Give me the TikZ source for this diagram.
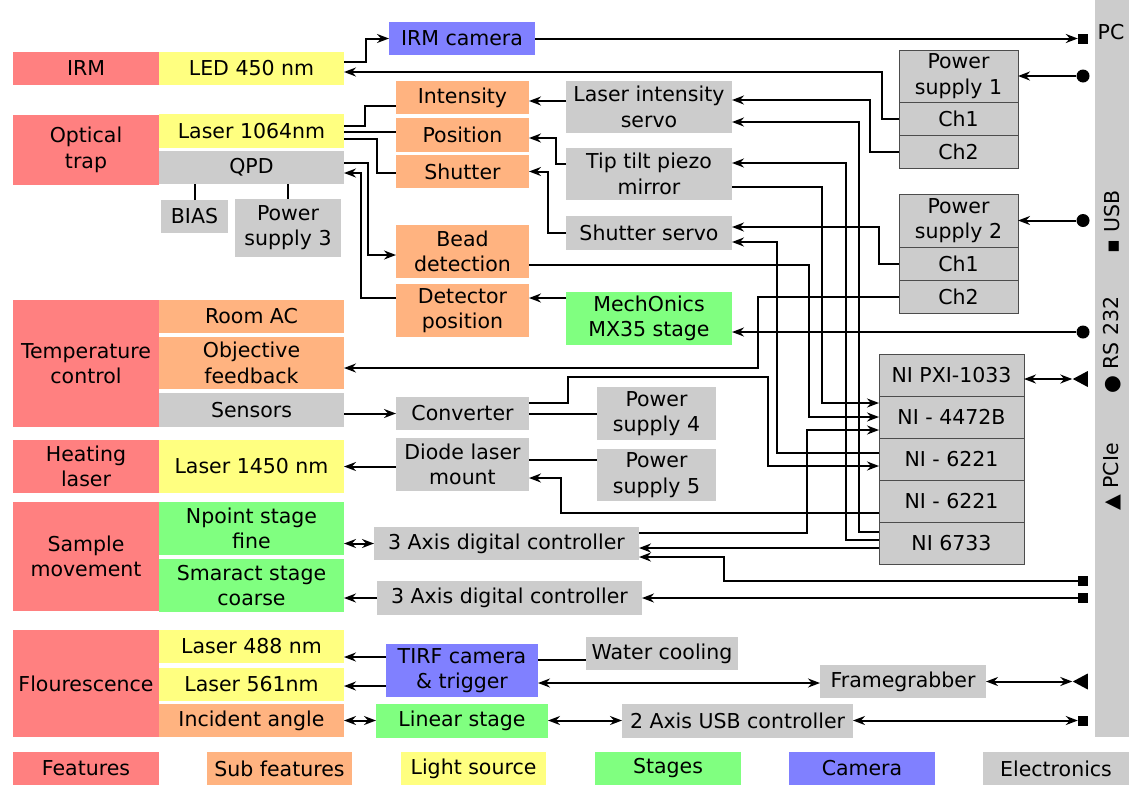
\documentclass[tikz,border=0pt]{standalone}
\usepackage{fontspec}
\setmainfont{DejaVu Sans}
\usetikzlibrary{arrows.meta, shapes.geometric, positioning}

\definecolor{featred}{HTML}{FF8080}
\definecolor{subor}{HTML}{FFB380}
\definecolor{lightyel}{HTML}{FFFF80}
\definecolor{stagegr}{HTML}{80FF80}
\definecolor{cambl}{HTML}{8080FF}
\definecolor{elecgr}{HTML}{CCCCCC}

\tikzset{
  blk/.style={rectangle, inner sep=0pt, outer sep=0pt, align=center, font=\fontsize{20.5}{25.5}\selectfont},
  sz/.style 2 args={minimum width=#1pt, minimum height=#2pt},
  feat/.style={blk, fill=featred},
  subfeat/.style={blk, fill=subor},
  light/.style={blk, fill=lightyel},
  stage/.style={blk, fill=stagegr},
  cam/.style={blk, fill=cambl},
  elec/.style={blk, fill=elecgr},
  chan/.style={elec, draw=black!70, line width=0.9pt},
  sqmark/.style={rectangle, fill=black, inner sep=0pt, minimum size=10pt},
  dotmark/.style={circle, fill=black, inner sep=0pt, minimum size=13pt},
  trimark/.style={isosceles triangle, isosceles triangle stretches, shape border rotate=180, fill=black, inner sep=0pt, minimum height=15pt, minimum width=16pt},
  plainwire/.style={line width=2pt},
  wire/.style={plainwire, -{Stealth[length=12pt,width=9pt,inset=4pt]}},
  wires/.style={plainwire, {Stealth[length=12pt,width=9pt,inset=4pt]}-{Stealth[length=12pt,width=9pt,inset=4pt]}}
}

\begin{document}
\begin{tikzpicture}[x=1pt, y=-1pt]
    \useasboundingbox (0,0) rectangle (1129,785);

    % Features (left column)
    \node[feat, sz={146}{33}] (irm) at (86,68.5) {IRM};
    \node[feat, sz={146}{70}] (otrap) at (86,150) {Optical\\trap};
    \node[feat, sz={146}{127}] (temp) at (86,363.5) {Temperature\\control};
    \node[feat, sz={146}{53}] (heat) at (86,466.5) {Heating\\laser};
    \node[feat, sz={146}{109}] (samp) at (86,556.5) {Sample\\movement};
    \node[feat, sz={146}{107}] (flou) at (86,683.5) {Flourescence};

    % Second column
    \node[light, sz={185}{33}] (led) at (251.5,68.5) {LED 450 nm};
    \node[light, sz={185}{34}] (l1064) at (251.5,131) {Laser 1064nm};
    \node[elec, sz={185}{33}] (qpd) at (251.5,167.5) {QPD};
    \node[elec, sz={67}{33}] (bias) at (194.5,216.5) {BIAS};
    \node[elec, sz={106}{58}] (ps3) at (288,227.5) {Power\\supply 3};
    \node[subfeat, sz={185}{33}] (roomac) at (251.5,316.5) {Room AC};
    \node[subfeat, sz={185}{52}] (objfb) at (251.5,363) {Objective\\feedback};
    \node[elec, sz={185}{34}] (sensors) at (251.5,410) {Sensors};
    \node[light, sz={185}{53}] (l1450) at (251.5,466.5) {Laser 1450 nm};
    \node[stage, sz={185}{53}] (npoint) at (251.5,528.5) {Npoint stage\\fine};
    \node[stage, sz={185}{53}] (smaract) at (251.5,585.5) {Smaract stage\\coarse};
    \node[light, sz={185}{33}] (l488) at (251.5,646.5) {Laser 488 nm};
    \node[light, sz={185}{33}] (l561) at (251.5,684.5) {Laser 561nm};
    \node[subfeat, sz={185}{33}] (incid) at (251.5,720.5) {Incident angle};

    % Third column
    \node[cam, sz={146}{33}] (irmcam) at (462,38.5) {IRM camera};
    \node[subfeat, sz={133}{33}] (intens) at (462.5,97.5) {Intensity};
    \node[subfeat, sz={133}{34}] (posn) at (462.5,135) {Position};
    \node[subfeat, sz={133}{33}] (shut) at (462.5,171.5) {Shutter};
    \node[subfeat, sz={133}{53}] (bead) at (462.5,251.5) {Bead\\detection};
    \node[subfeat, sz={133}{53}] (detpos) at (462.5,310.5) {Detector\\position};
    \node[elec, sz={133}{33}] (conv) at (462.5,413.5) {Converter};
    \node[elec, sz={133}{53}] (diode) at (462.5,464.5) {Diode laser\\mount};
    \node[elec, sz={265}{33}] (ctrla) at (506.5,543.5) {3 Axis digital controller};
    \node[elec, sz={265}{34}] (ctrlb) at (509.5,598) {3 Axis digital controller};
    \node[cam, sz={152}{53}] (tirf) at (462,670.5) {TIRF camera\\\& trigger};
    \node[stage, sz={172}{34}] (linst) at (462,720.5) {Linear stage};

    % Fourth column
    \node[elec, sz={166}{52}] (lis) at (649,107) {Laser intensity\\servo};
    \node[elec, sz={166}{52}] (ttp) at (649,174) {Tip tilt piezo\\mirror};
    \node[elec, sz={166}{34}] (ssv) at (649,233) {Shutter servo};
    \node[stage, sz={166}{53}] (mech) at (649,318.5) {MechOnics\\MX35 stage};
    \node[elec, sz={119}{53}] (ps4) at (656.5,413.5) {Power\\supply 4};
    \node[elec, sz={119}{52}] (ps5) at (656.5,475) {Power\\supply 5};
    \node[elec, sz={152}{33}] (water) at (662,653.5) {Water cooling};
    \node[elec, sz={166}{33}] (fgrab) at (903,681.5) {Framegrabber};
    \node[elec, sz={231}{34}] (usbctl) at (737.5,720.5) {2 Axis USB controller};

    % Power supplies with channels
    \node[chan, sz={119}{52}] (ps1) at (958.5,76) {Power\\supply 1};
    \node[chan, sz={119}{33}, below=0pt of ps1] (ps1a) {Ch1};
    \node[chan, sz={119}{33}, below=0pt of ps1a] (ps1b) {Ch2};
    \node[chan, sz={119}{53}] (ps2) at (958.5,220.5) {Power\\supply 2};
    \node[chan, sz={119}{33}, below=0pt of ps2] (ps2a) {Ch1};
    \node[chan, sz={119}{33}, below=0pt of ps2a] (ps2b) {Ch2};

    % NI chassis
    \node[chan, sz={145}{42}] (ni1) at (951.5,375) {NI PXI-1033};
    \node[chan, sz={145}{42}, below=0pt of ni1] (ni2) {NI - 4472B};
    \node[chan, sz={145}{42}, below=0pt of ni2] (ni3) {NI - 6221};
    \node[chan, sz={145}{42}, below=0pt of ni3] (ni4) {NI - 6221};
    \node[chan, sz={145}{42}, below=0pt of ni4] (ni5) {NI 6733};

    % PC bar
    \node[elec, sz={34}{737}] (pcbar) at (1112,368.5) {};
    \node[blk] (pclbl) at (1111,32) {PC};
    \node[blk, rotate=90] (usblbl) at (1112,222) {▪ USB};
    \node[blk, rotate=90] (rslbl) at (1112,345) {● RS 232};
    \node[blk, rotate=90] (pcielbl) at (1112,477) {▲ PCIe};

    % Ports
    \node[sqmark] (pcirm) at (1083,38.5) {};
    \node[dotmark] (pcps1) at (1083,76) {};
    \node[dotmark] (pcps2) at (1083,220.5) {};
    \node[dotmark] (pcmech) at (1083,332) {};
    \node[trimark] (pcni) at (1083,379) {};
    \node[sqmark] (pcctra) at (1083,581) {};
    \node[sqmark] (pcctrb) at (1083,598) {};
    \node[trimark] (pcfg) at (1083,681.5) {};
    \node[sqmark] (pcusb) at (1083,720.5) {};

    % Legend
    \node[feat, sz={146}{33}] (lgfeat) at (86,768.5) {Features};
    \node[subfeat, sz={145}{33}] (lgsub) at (279.5,768.5) {Sub features};
    \node[light, sz={145}{33}] (lglight) at (473.5,768.5) {Light source};
    \node[stage, sz={146}{33}] (lgstage) at (668,768.5) {Stages};
    \node[cam, sz={146}{33}] (lgcam) at (862,768.5) {Camera};
    \node[elec, sz={146}{33}] (lgelec) at (1056,768.5) {Electronics};

    % IRM and optical trap wiring
    \draw[wire] ([yshift=6.5pt]led.east) -- ++(22,0) |- (irmcam.west);
    \draw[wire] (irmcam.east) -- (pcirm);
    \draw[wire] (pcps1) -- (ps1.east);
    \draw[wire] (ps1a.west) -- ++(-17,0) |- ([yshift=-3.5pt]led.east);
    \draw[wire] (ps1b.west) -- ++(-29,0) |- ([yshift=7pt]lis.east);
    \draw[plainwire] ([yshift=5pt]l1064.east) -- ++(21,0) |- ([yshift=-8.5pt]intens.west);
    \draw[plainwire] ([yshift=-1pt]l1064.east) -- ([yshift=3pt]posn.west);
    \draw[plainwire] ([yshift=-8pt]l1064.east) -- ++(33,0) |- ([yshift=-1.5pt]shut.west);
    \draw[wire] ([yshift=6pt]lis.west) -- ([yshift=-3.5pt]intens.east);
    \draw[wire] ([yshift=10pt]ttp.west) -- ++(-10,0) |- ([yshift=-3pt]posn.east);
    \draw[wire] (ssv.west) -- ++(-18,0) |- (shut.east);
    \draw[wire] ([yshift=4.5pt]qpd.east) -- ++(24,0) |- ([yshift=-3.5pt]bead.west);
    \draw[wire] ([yshift=12.5pt]detpos.west) -- ++(-35,0) |- ([yshift=-5.5pt]qpd.east);
    \draw[plainwire] (bias.north) -- (bias.north |- qpd.south);
    \draw[plainwire] (ps3.north) -- (ps3.north |- qpd.south);
    \draw[wire] ([yshift=20.5pt]mech.west) -- ([yshift=12.5pt]detpos.east);
    \draw[wire] (pcmech) -- ([yshift=-13.5pt]mech.east);

    % Servo and DAQ wiring
    \draw[wire] (pcps2) -- (ps2.east);
    \draw[wire] (ps2a.west) -- ++(-20,0) |- ([yshift=6pt]ssv.east);
    \draw[wire] (ps2b.west) -- ++(-141,0) |- ([yshift=-5pt]objfb.east);
    \draw[wires] (pcni) -- ([yshift=-4pt]ni1.east);
    \draw[wire] ([yshift=11pt]ni5.west) -- ++(-20,0) |- ([yshift=-15pt]lis.east);
    \draw[wire] ([yshift=3pt]ni5.west) -- ++(-33,0) |- ([yshift=11pt]ttp.east);
    \draw[wire] ([yshift=-13pt]ttp.east) -- ++(90,0) |- ([yshift=14pt]ni2.west);
    \draw[wire] ([yshift=-13.5pt]bead.east) -- ++(280,0) |- (ni2.west);
    \draw[wire] ([yshift=10.5pt]ctrla.east) -- ++(168,0) |- ([yshift=-13pt]ni2.west);
    \draw[wire] ([yshift=6pt]ni3.west) -- ++(-102,0) |- ([yshift=-9pt]ssv.east);
    \draw[wire] ([yshift=10.5pt]conv.east) -- ++(39,0) -- ++(0,-26) -- ++(200,0) |- ([yshift=-7pt]ni3.west);
    \draw[wire] ([yshift=-12pt]ni4.west) -- ++(-318,0) |- ([yshift=-13.5pt]diode.east);
    \draw[wire] ([yshift=-5pt]ni5.west) -- ([yshift=-4.5pt]ctrla.east);

    % Temperature, heating, stages
    \draw[wire] ([yshift=-3.5pt]sensors.east) -- (conv.west);
    \draw[plainwire] (conv.east) -- (ps4.west);
    \draw[plainwire] ([yshift=4.5pt]diode.east) -- ([yshift=15pt]ps5.west);
    \draw[wire] ([yshift=-2pt]diode.west) -- (l1450.east);
    \draw[wires] (ctrla.west) -- ([yshift=-15pt]npoint.east);
    \draw[wire] (pcctra.west) -- ++(-354,0) |- ([yshift=-13.5pt]ctrla.east);
    \draw[wire] (pcctrb.west) -- (ctrlb.east);
    \draw[wire] (ctrlb.west) -- ([yshift=-12.5pt]smaract.east);

    % Flourescence
    \draw[wire] ([yshift=13.5pt]tirf.west) -- ([yshift=-10.5pt]l488.east);
    \draw[wire] ([yshift=-15.5pt]tirf.west) -- ([yshift=-1.5pt]l561.east);
    \draw[plainwire] ([yshift=10.5pt]tirf.east) -- ([yshift=-6.5pt]water.west);
    \draw[wires] ([yshift=-12.5pt]tirf.east) -- ([yshift=-1.5pt]fgrab.west);
    \draw[wires] (fgrab.east) -- (pcfg);
    \draw[wires] (linst.west) -- (incid.east);
    \draw[wires] (linst.east) -- (usbctl.west);
    \draw[wires] (usbctl.east) -- (pcusb);
\end{tikzpicture}
\end{document}
